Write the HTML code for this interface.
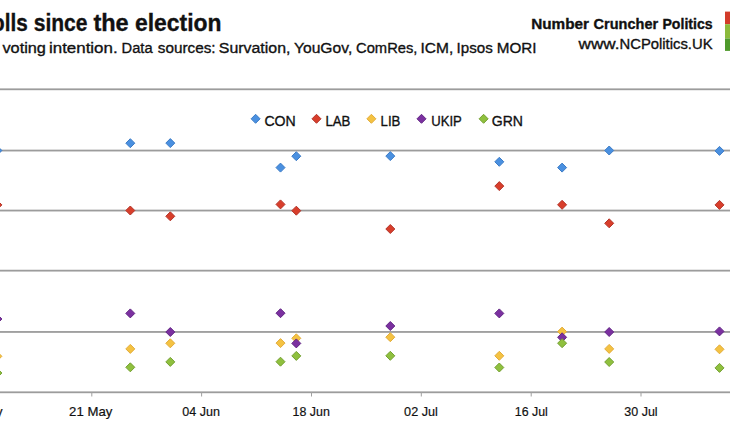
<!DOCTYPE html>
<html><head><meta charset="utf-8"><style>
html,body{margin:0;padding:0;background:#fff;width:730px;height:430px;overflow:hidden}
svg{display:block}
text{font-family:"Liberation Sans",sans-serif;fill:#111;stroke:#111;stroke-width:0.35px}
</style></head><body>
<svg width="730" height="430" viewBox="0 0 730 430">
<rect width="730" height="430" fill="#fff"/>
<text x="-20.61" y="31.3" font-size="23" font-weight="bold" textLength="48.26" lengthAdjust="spacingAndGlyphs">polls</text><text x="33.76" y="31.3" font-size="23" font-weight="bold" textLength="53.76" lengthAdjust="spacingAndGlyphs">since</text><text x="93.41" y="31.3" font-size="23" font-weight="bold" textLength="35.29" lengthAdjust="spacingAndGlyphs">the</text><text x="135.01" y="31.3" font-size="23" font-weight="bold" textLength="86.51" lengthAdjust="spacingAndGlyphs">election</text>
<text x="2.44" y="53" font-size="15.5" textLength="43.51" lengthAdjust="spacingAndGlyphs">voting</text><text x="48.97" y="53" font-size="15.5" textLength="68.68" lengthAdjust="spacingAndGlyphs">intention.</text><text x="121.60" y="53" font-size="15.5" textLength="31.00" lengthAdjust="spacingAndGlyphs">Data</text><text x="157.77" y="53" font-size="15.5" textLength="57.82" lengthAdjust="spacingAndGlyphs">sources:</text><text x="218.78" y="53" font-size="15.5" textLength="71.65" lengthAdjust="spacingAndGlyphs">Survation,</text><text x="293.97" y="53" font-size="15.5" textLength="58.27" lengthAdjust="spacingAndGlyphs">YouGov,</text><text x="356.05" y="53" font-size="15.5" textLength="61.37" lengthAdjust="spacingAndGlyphs">ComRes,</text><text x="420.57" y="53" font-size="15.5" textLength="32.72" lengthAdjust="spacingAndGlyphs">ICM,</text><text x="456.60" y="53" font-size="15.5" textLength="36.14" lengthAdjust="spacingAndGlyphs">Ipsos</text><text x="496.75" y="53" font-size="15.5" textLength="39.75" lengthAdjust="spacingAndGlyphs">MORI</text>
<text x="531.18" y="28.6" font-size="14.8" font-weight="bold" textLength="57.86" lengthAdjust="spacingAndGlyphs">Number</text><text x="593.60" y="28.6" font-size="14.8" font-weight="bold" textLength="64.51" lengthAdjust="spacingAndGlyphs">Cruncher</text><text x="662.46" y="28.6" font-size="14.8" font-weight="bold" textLength="50.22" lengthAdjust="spacingAndGlyphs">Politics</text>
<text x="578.52" y="48.6" font-size="15" textLength="40.90" lengthAdjust="spacingAndGlyphs">www.</text><text x="619.48" y="48.6" font-size="15" textLength="93.08" lengthAdjust="spacingAndGlyphs">NCPolitics.UK</text>
<rect x="725" y="11.6" width="5" height="12.6" fill="#d23c2a"/>
<rect x="725" y="24.2" width="5" height="14.3" fill="#8cba3c"/>
<rect x="725" y="38.5" width="5" height="12.4" fill="#4f9a2c"/>
<rect x="0" y="88.40" width="730" height="1.8" fill="#9c9c9c"/><rect x="0" y="149.65" width="730" height="1.8" fill="#9c9c9c"/><rect x="0" y="209.65" width="730" height="1.8" fill="#9c9c9c"/><rect x="0" y="269.75" width="730" height="1.8" fill="#9c9c9c"/><rect x="0" y="331.05" width="730" height="1.8" fill="#9c9c9c"/><rect x="0" y="391.40" width="730" height="1.8" fill="#9c9c9c"/>
<rect x="-18.5" y="392" width="1" height="4.5" fill="#a0a0a0"/><text x="-40.56" y="416" font-size="13" textLength="43.04" lengthAdjust="spacingAndGlyphs" style="stroke-width:0.2px">07 May</text><rect x="91.3" y="392" width="1" height="4.5" fill="#a0a0a0"/><text x="69.14" y="416" font-size="13" textLength="43.19" lengthAdjust="spacingAndGlyphs" style="stroke-width:0.2px">21 May</text><rect x="201.1" y="392" width="1" height="4.5" fill="#a0a0a0"/><text x="182.31" y="416" font-size="13" textLength="37.60" lengthAdjust="spacingAndGlyphs" style="stroke-width:0.2px">04 Jun</text><rect x="311.0" y="392" width="1" height="4.5" fill="#a0a0a0"/><text x="292.55" y="416" font-size="13" textLength="37.25" lengthAdjust="spacingAndGlyphs" style="stroke-width:0.2px">18 Jun</text><rect x="420.8" y="392" width="1" height="4.5" fill="#a0a0a0"/><text x="404.11" y="416" font-size="13" textLength="33.74" lengthAdjust="spacingAndGlyphs" style="stroke-width:0.2px">02 Jul</text><rect x="530.7" y="392" width="1" height="4.5" fill="#a0a0a0"/><text x="514.76" y="416" font-size="13" textLength="33.07" lengthAdjust="spacingAndGlyphs" style="stroke-width:0.2px">16 Jul</text><rect x="640.5" y="392" width="1" height="4.5" fill="#a0a0a0"/><text x="624.32" y="416" font-size="13" textLength="33.31" lengthAdjust="spacingAndGlyphs" style="stroke-width:0.2px">30 Jul</text><rect x="750.4" y="392" width="1" height="4.5" fill="#a0a0a0"/><text x="733.09" y="416" font-size="13" textLength="37.67" lengthAdjust="spacingAndGlyphs" style="stroke-width:0.2px">13 Aug</text>
<path d="M255.6 114.3L260.1 118.8L255.6 123.3L251.1 118.8Z" fill="#4a90e0" stroke="#3d7cc6" stroke-width="1"/><text x="264.4" y="126" font-size="15.5" textLength="31.4" lengthAdjust="spacingAndGlyphs">CON</text><path d="M316.5 114.3L321.0 118.8L316.5 123.3L312.0 118.8Z" fill="#d83e2b" stroke="#b3352a" stroke-width="1"/><text x="325.4" y="126" font-size="15.5" textLength="25" lengthAdjust="spacingAndGlyphs">LAB</text><path d="M371.4 114.3L375.9 118.8L371.4 123.3L366.9 118.8Z" fill="#f4c242" stroke="#e2ac3a" stroke-width="1"/><text x="380.6" y="126" font-size="15.5" textLength="19.8" lengthAdjust="spacingAndGlyphs">LIB</text><path d="M421.5 114.3L426.0 118.8L421.5 123.3L417.0 118.8Z" fill="#7b30a0" stroke="#622684" stroke-width="1"/><text x="431.2" y="126" font-size="15.5" textLength="30.6" lengthAdjust="spacingAndGlyphs">UKIP</text><path d="M483.6 114.3L488.1 118.8L483.6 123.3L479.1 118.8Z" fill="#8fc03e" stroke="#74a032" stroke-width="1"/><text x="491.8" y="126" font-size="15.5" textLength="31.2" lengthAdjust="spacingAndGlyphs">GRN</text>
<path d="M-2.6 146.0L1.9 150.5L-2.6 155.0L-7.1 150.5Z" fill="#4a90e0" stroke="#3d7cc6" stroke-width="1"/><path d="M130.3 138.7L134.8 143.2L130.3 147.7L125.8 143.2Z" fill="#4a90e0" stroke="#3d7cc6" stroke-width="1"/><path d="M170.3 138.6L174.8 143.1L170.3 147.6L165.8 143.1Z" fill="#4a90e0" stroke="#3d7cc6" stroke-width="1"/><path d="M280.5 163.1L285.0 167.6L280.5 172.1L276.0 167.6Z" fill="#4a90e0" stroke="#3d7cc6" stroke-width="1"/><path d="M296.3 151.7L300.8 156.2L296.3 160.7L291.8 156.2Z" fill="#4a90e0" stroke="#3d7cc6" stroke-width="1"/><path d="M390.3 151.6L394.8 156.1L390.3 160.6L385.8 156.1Z" fill="#4a90e0" stroke="#3d7cc6" stroke-width="1"/><path d="M499.3 157.3L503.8 161.8L499.3 166.3L494.8 161.8Z" fill="#4a90e0" stroke="#3d7cc6" stroke-width="1"/><path d="M562.1 163.1L566.6 167.6L562.1 172.1L557.6 167.6Z" fill="#4a90e0" stroke="#3d7cc6" stroke-width="1"/><path d="M609.2 146.0L613.7 150.5L609.2 155.0L604.7 150.5Z" fill="#4a90e0" stroke="#3d7cc6" stroke-width="1"/><path d="M719.5 146.4L724.0 150.9L719.5 155.4L715.0 150.9Z" fill="#4a90e0" stroke="#3d7cc6" stroke-width="1"/><path d="M-2.6 200.4L1.9 204.9L-2.6 209.4L-7.1 204.9Z" fill="#d83e2b" stroke="#b3352a" stroke-width="1"/><path d="M130.3 206.0L134.8 210.5L130.3 215.0L125.8 210.5Z" fill="#d83e2b" stroke="#b3352a" stroke-width="1"/><path d="M170.3 211.8L174.8 216.3L170.3 220.8L165.8 216.3Z" fill="#d83e2b" stroke="#b3352a" stroke-width="1"/><path d="M280.5 199.9L285.0 204.4L280.5 208.9L276.0 204.4Z" fill="#d83e2b" stroke="#b3352a" stroke-width="1"/><path d="M296.3 206.2L300.8 210.7L296.3 215.2L291.8 210.7Z" fill="#d83e2b" stroke="#b3352a" stroke-width="1"/><path d="M390.3 224.5L394.8 229.0L390.3 233.5L385.8 229.0Z" fill="#d83e2b" stroke="#b3352a" stroke-width="1"/><path d="M499.3 181.6L503.8 186.1L499.3 190.6L494.8 186.1Z" fill="#d83e2b" stroke="#b3352a" stroke-width="1"/><path d="M562.1 200.3L566.6 204.8L562.1 209.3L557.6 204.8Z" fill="#d83e2b" stroke="#b3352a" stroke-width="1"/><path d="M609.2 218.8L613.7 223.3L609.2 227.8L604.7 223.3Z" fill="#d83e2b" stroke="#b3352a" stroke-width="1"/><path d="M719.5 200.4L724.0 204.9L719.5 209.4L715.0 204.9Z" fill="#d83e2b" stroke="#b3352a" stroke-width="1"/><path d="M-2.6 351.8L1.9 356.3L-2.6 360.8L-7.1 356.3Z" fill="#f4c242" stroke="#e2ac3a" stroke-width="1"/><path d="M130.3 344.4L134.8 348.9L130.3 353.4L125.8 348.9Z" fill="#f4c242" stroke="#e2ac3a" stroke-width="1"/><path d="M170.3 338.8L174.8 343.3L170.3 347.8L165.8 343.3Z" fill="#f4c242" stroke="#e2ac3a" stroke-width="1"/><path d="M280.5 338.6L285.0 343.1L280.5 347.6L276.0 343.1Z" fill="#f4c242" stroke="#e2ac3a" stroke-width="1"/><path d="M296.3 333.8L300.8 338.3L296.3 342.8L291.8 338.3Z" fill="#f4c242" stroke="#e2ac3a" stroke-width="1"/><path d="M390.3 332.7L394.8 337.2L390.3 341.7L385.8 337.2Z" fill="#f4c242" stroke="#e2ac3a" stroke-width="1"/><path d="M499.3 351.3L503.8 355.8L499.3 360.3L494.8 355.8Z" fill="#f4c242" stroke="#e2ac3a" stroke-width="1"/><path d="M562.1 327.1L566.6 331.6L562.1 336.1L557.6 331.6Z" fill="#f4c242" stroke="#e2ac3a" stroke-width="1"/><path d="M609.2 344.4L613.7 348.9L609.2 353.4L604.7 348.9Z" fill="#f4c242" stroke="#e2ac3a" stroke-width="1"/><path d="M719.5 344.8L724.0 349.3L719.5 353.8L715.0 349.3Z" fill="#f4c242" stroke="#e2ac3a" stroke-width="1"/><path d="M-2.6 314.5L1.9 319.0L-2.6 323.5L-7.1 319.0Z" fill="#7b30a0" stroke="#622684" stroke-width="1"/><path d="M130.3 308.9L134.8 313.4L130.3 317.9L125.8 313.4Z" fill="#7b30a0" stroke="#622684" stroke-width="1"/><path d="M170.3 327.5L174.8 332.0L170.3 336.5L165.8 332.0Z" fill="#7b30a0" stroke="#622684" stroke-width="1"/><path d="M280.5 308.7L285.0 313.2L280.5 317.7L276.0 313.2Z" fill="#7b30a0" stroke="#622684" stroke-width="1"/><path d="M296.3 338.9L300.8 343.4L296.3 347.9L291.8 343.4Z" fill="#7b30a0" stroke="#622684" stroke-width="1"/><path d="M390.3 321.5L394.8 326.0L390.3 330.5L385.8 326.0Z" fill="#7b30a0" stroke="#622684" stroke-width="1"/><path d="M499.3 308.9L503.8 313.4L499.3 317.9L494.8 313.4Z" fill="#7b30a0" stroke="#622684" stroke-width="1"/><path d="M562.1 332.8L566.6 337.3L562.1 341.8L557.6 337.3Z" fill="#7b30a0" stroke="#622684" stroke-width="1"/><path d="M609.2 327.5L613.7 332.0L609.2 336.5L604.7 332.0Z" fill="#7b30a0" stroke="#622684" stroke-width="1"/><path d="M719.5 326.9L724.0 331.4L719.5 335.9L715.0 331.4Z" fill="#7b30a0" stroke="#622684" stroke-width="1"/><path d="M-2.6 368.5L1.9 373.0L-2.6 377.5L-7.1 373.0Z" fill="#8fc03e" stroke="#74a032" stroke-width="1"/><path d="M130.3 362.8L134.8 367.3L130.3 371.8L125.8 367.3Z" fill="#8fc03e" stroke="#74a032" stroke-width="1"/><path d="M170.3 357.4L174.8 361.9L170.3 366.4L165.8 361.9Z" fill="#8fc03e" stroke="#74a032" stroke-width="1"/><path d="M280.5 357.2L285.0 361.7L280.5 366.2L276.0 361.7Z" fill="#8fc03e" stroke="#74a032" stroke-width="1"/><path d="M296.3 351.4L300.8 355.9L296.3 360.4L291.8 355.9Z" fill="#8fc03e" stroke="#74a032" stroke-width="1"/><path d="M390.3 351.3L394.8 355.8L390.3 360.3L385.8 355.8Z" fill="#8fc03e" stroke="#74a032" stroke-width="1"/><path d="M499.3 363.0L503.8 367.5L499.3 372.0L494.8 367.5Z" fill="#8fc03e" stroke="#74a032" stroke-width="1"/><path d="M562.1 338.7L566.6 343.2L562.1 347.7L557.6 343.2Z" fill="#8fc03e" stroke="#74a032" stroke-width="1"/><path d="M609.2 357.5L613.7 362.0L609.2 366.5L604.7 362.0Z" fill="#8fc03e" stroke="#74a032" stroke-width="1"/><path d="M719.5 363.4L724.0 367.9L719.5 372.4L715.0 367.9Z" fill="#8fc03e" stroke="#74a032" stroke-width="1"/>
</svg>
</body></html>
